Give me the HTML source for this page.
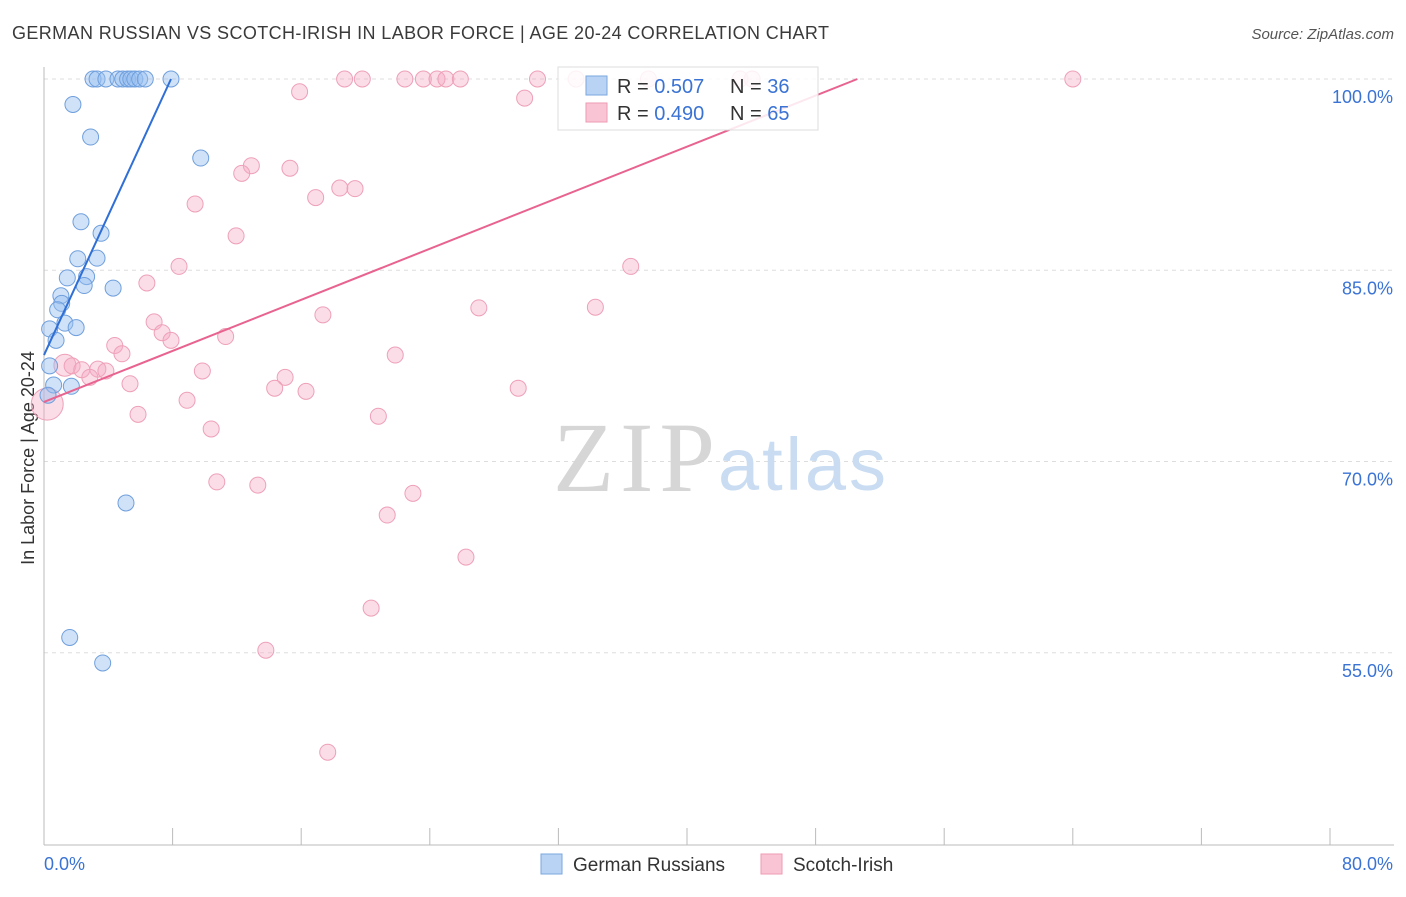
<!DOCTYPE html>
<html><head><meta charset="utf-8"><style>
body{margin:0;background:#fff;font-family:"Liberation Sans",sans-serif;}
</style></head><body>
<svg id="chart" width="1406" height="892" font-family="Liberation Sans, sans-serif">
<text x="12" y="39" font-size="18" fill="#3a3a3a" textLength="817">GERMAN RUSSIAN VS SCOTCH-IRISH IN LABOR FORCE | AGE 20-24 CORRELATION CHART</text>
<text x="1394" y="39" font-size="15" fill="#555" text-anchor="end" font-style="italic">Source: ZipAtlas.com</text>
<text x="34" y="458" font-size="18" fill="#333" text-anchor="middle" transform="rotate(-90 34 458)">In Labor Force | Age 20-24</text>
<g id="grid"></g><g id="axes"></g>
<g><text x="553" y="491" font-size="100" fill="#d6d6d6" style="font-family:'Liberation Serif',serif" textLength="162">ZIP</text><text x="718" y="490" font-size="74" fill="#c9dcf2" textLength="168">atlas</text></g>
<g id="marks"></g>
<g>
<rect x="558" y="67" width="260" height="63" fill="#fff" fill-opacity="0.85" stroke="#ddd"/>
<rect x="586" y="76" width="21" height="19" fill="#b9d3f5" stroke="#7aa7e0"/>
<text x="617" y="93" font-size="20" fill="#333">R = <tspan fill="#3a73d4">0.507</tspan></text>
<text x="730" y="93" font-size="20" fill="#333">N = <tspan fill="#3a73d4">36</tspan></text>
<rect x="586" y="103" width="21" height="19" fill="#f9c5d4" stroke="#ee9ab3"/>
<text x="617" y="120" font-size="20" fill="#333">R = <tspan fill="#3a73d4">0.490</tspan></text>
<text x="730" y="120" font-size="20" fill="#333">N = <tspan fill="#3a73d4">65</tspan></text>
</g>
<g>
<rect x="541" y="854" width="21" height="20" fill="#b9d3f5" stroke="#7aa7e0"/><text x="573" y="871" font-size="19" fill="#333">German Russians</text>
<rect x="761" y="854" width="21" height="20" fill="#f9c5d4" stroke="#ee9ab3"/><text x="793" y="871" font-size="19" fill="#333">Scotch-Irish</text>
</g>
</svg>
<script>
const blueX=[3.05,3.3,3.85,4.6,4.9,5.2,5.4,5.65,5.95,6.3,7.9,1.8,2.9,9.75,2.3,3.55,2.1,3.3,1.45,2.65,2.5,4.3,1.05,1.1,0.85,1.3,2.0,0.35,0.75,0.35,0.6,1.7,0.25,5.1,1.6,3.65];
const blueY=[100,100,100,100,100,100,100,100,100,100,100,98.0,95.45,93.8,88.8,87.9,85.9,85.95,84.4,84.5,83.8,83.6,83.0,82.4,81.9,80.85,80.5,80.4,79.5,77.5,76.0,75.9,75.2,66.75,56.2,54.2];
const pinkX=[18.7,19.8,22.45,23.6,24.45,25.0,25.9,30.7,33.1,37.6,43.3,44.05,64.0,15.9,29.9,12.9,12.3,15.3,18.4,19.35,16.9,9.4,11.95,8.4,36.5,6.4,27.05,34.3,17.35,6.85,7.35,7.9,11.3,4.4,4.85,21.85,1.3,1.75,2.35,3.35,3.85,2.85,9.85,15.0,5.35,14.35,16.3,29.5,8.9,5.85,20.8,10.4,0.2,10.75,13.3,22.95,21.35,26.25,20.35,13.8,17.65];
const pinkY=[100,100,100,100,100,100,100,100,100,100,100,100,100,99.0,98.5,93.2,92.6,93.0,91.45,91.4,90.7,90.2,87.7,85.3,85.3,84.0,82.05,82.1,81.5,80.95,80.1,79.5,79.8,79.1,78.45,78.35,77.55,77.5,77.2,77.25,77.1,76.6,77.1,76.6,76.1,75.75,75.5,75.75,74.8,73.7,73.55,72.55,74.5,68.4,68.15,67.5,65.8,62.5,58.5,55.2,47.2];
const blueTrend=[0,78.35,7.9,100];
const pinkTrend=[0,74.67,50.6,100];
const yTicks=[100,85,70,55];
const xTicks=[0,8,16,24,32,40,48,56,64,72,80];
const NS="http://www.w3.org/2000/svg";
const sx=v=>44+v/80*1286, sy=v=>79+(100-v)*12.75;
function mk(t,a,p){const e=document.createElementNS(NS,t);for(const k in a)e.setAttribute(k,a[k]);document.getElementById(p).appendChild(e);return e;}
yTicks.forEach(v=>{
 const l=mk('line',{x1:44,x2:1394,y1:sy(v),y2:sy(v),stroke:'#ddd','stroke-dasharray':'4 4'},'grid');
 
 
 const t=mk('text',{x:1393,y:sy(v)+24,'font-size':18,fill:'#3a73d4','text-anchor':'end'},'grid');
 t.textContent=v.toFixed(1)+'%';
 
 
});
mk('line',{x1:44,x2:44,y1:67,y2:845,stroke:'#bbb'},'axes');
mk('line',{x1:44,x2:1394,y1:845,y2:845,stroke:'#bbb'},'axes');
xTicks.forEach(v=>{
 const l=mk('line',{x1:sx(v),x2:sx(v),y1:828,y2:845,stroke:'#bbb'},'axes');
 
 
});
[[0,'start'],[80,'end']].forEach(([v,a])=>{
 const t=mk('text',{x:v?1393:44,y:870,'font-size':18,fill:'#3a73d4','text-anchor':a},'axes');
 t.textContent=v.toFixed(1)+'%';
 
 
});
pinkX.forEach((x,i)=>{
 const r=(i==52)?16:(i==36?11:8);
 const c=mk('circle',{cx:sx(x),cy:sy(pinkY[i]),r:r,fill:'rgba(245,170,195,0.4)',stroke:'#eea0b8','stroke-width':1},'marks');
 
 
});
blueX.forEach((x,i)=>{
 const c=mk('circle',{cx:sx(x),cy:sy(blueY[i]),r:8,fill:'rgba(150,190,240,0.45)',stroke:'#6f9fdd','stroke-width':1},'marks');
 
 
});
const bl=mk('line',{x1:sx(blueTrend[0]),y1:sy(blueTrend[1]),x2:sx(blueTrend[2]),y2:sy(blueTrend[3]),stroke:'#2f6fd6','stroke-width':2},'marks');


const pl=mk('line',{x1:sx(pinkTrend[0]),y1:sy(pinkTrend[1]),x2:sx(pinkTrend[2]),y2:sy(pinkTrend[3]),stroke:'#e8638f','stroke-width':2},'marks');


</script>
</body></html>
